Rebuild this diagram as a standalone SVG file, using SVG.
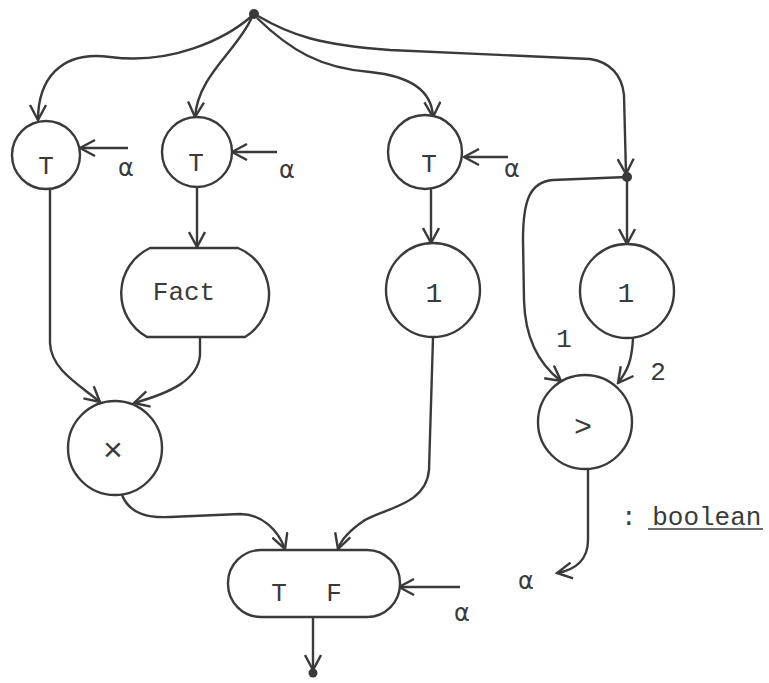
<svg xmlns="http://www.w3.org/2000/svg" width="769" height="683" viewBox="0 0 769 683">
<defs>
<style>
.n{fill:#fff;stroke:#3a3a3a;stroke-width:2.4}
.c{fill:none;stroke:#3a3a3a;stroke-width:2.4;marker-end:url(#ah)}
.t{font-family:"Liberation Mono","DejaVu Sans Mono",monospace;fill:#3a3a3a;text-anchor:middle}
.a{font-family:"DejaVu Sans","Liberation Sans",sans-serif;fill:#3a3a3a;font-size:24px}
.d{fill:#3a3a3a}
</style>
<marker id="ah" viewBox="0 0 18 18" refX="16" refY="9" markerWidth="18" markerHeight="18" markerUnits="userSpaceOnUse" orient="auto">
<path d="M1,1 L16,9 L1,17" fill="none" stroke="#3a3a3a" stroke-width="2.4"/>
</marker>
</defs>
<rect width="769" height="683" fill="#fff"/>
<g id="connectors">
<path class="c" d="M253,15 C225,40 170,65 110,57 C60,50 38,80 38,120"/>
<path class="c" d="M252,17 C238,50 198,75 195,117"/>
<path class="c" d="M257,18 C290,50 320,68 370,72 C410,76 432,90 433,117"/>
<path class="c" d="M258,16 C290,35 320,45 390,50 L590,59 C610,62 622,75 624,95 L626,174"/>
<path class="c" d="M50,189 L50,343 C51,370 80,385 100,402"/>
<path class="c" d="M197,187 L197,247"/>
<path class="c" d="M200,338 L200,355 C198,380 170,393 134,403"/>
<path class="c" d="M122,495 C130,515 150,518 170,517 L240,514 C262,514 278,530 285,549"/>
<path class="c" d="M433,338 L429,470 C426,505 385,508 365,520 C350,530 341,540 338,549"/>
<path class="c" d="M431,188 L431,243"/>
<path class="c" d="M627,177 L627,244"/>
<path class="c" d="M633,338 C632,360 628,370 618,383"/>
<path class="c" d="M627,177 L553,180 C530,182 523,200 523,240 L524,300 C525,340 540,365 561,381"/>
<path class="c" d="M588,470 L588,540 C588,560 575,570 557,573"/>
<path class="c" d="M313,617 L313,670"/>
<path class="c" d="M128,148 L80,148"/>
<path class="c" d="M277,152 L232,152"/>
<path class="c" d="M508,157 L464,157"/>
<path class="c" d="M460,587 L399,587"/>
</g>
<g id="top"><circle class="d" cx="254" cy="14" r="5"/></g>
<g id="split"><circle class="d" cx="627" cy="177" r="5"/></g>
<g id="out"><circle class="d" cx="313" cy="673" r="4.5"/></g>
<g id="t1"><circle class="n" cx="46" cy="155" r="34"/><text class="t" x="46" y="174" font-size="26">T</text><text class="a" x="118" y="176">α</text></g>
<g id="t2"><circle class="n" cx="197" cy="152" r="35"/><text class="t" x="196" y="171" font-size="26">T</text><text class="a" x="279" y="178">α</text></g>
<g id="t3"><circle class="n" cx="425" cy="152" r="37"/><text class="t" x="429" y="172" font-size="26">T</text><text class="a" x="504" y="177">α</text></g>
<g id="fact"><path class="n" d="M150,248 L238,248 A50,50 0 0 1 245,337 L147,337 A50,50 0 0 1 150,248 Z"/><text class="t" x="184" y="300" font-size="26">Fact</text></g>
<g id="one1"><circle class="n" cx="433" cy="290" r="47"/><text class="t" x="434" y="302" font-size="28">1</text></g>
<g id="one2"><circle class="n" cx="627" cy="291" r="47"/><text class="t" x="626" y="302" font-size="28">1</text></g>
<g id="mul"><circle class="n" cx="115" cy="448" r="47"/><text class="t" x="113" y="461" font-size="34">×</text></g>
<g id="gt"><circle class="n" cx="585" cy="422" r="47"/><text class="t" x="583" y="436" font-size="30">&gt;</text><text class="t" x="564" y="347" font-size="26">1</text><text class="t" x="658" y="380" font-size="26">2</text></g>
<g id="tf"><rect class="n" x="228" y="550" width="172" height="67" rx="33"/><text class="t" x="279" y="601" font-size="26">T</text><text class="t" x="334" y="601" font-size="26">F</text><text class="a" x="454" y="621">α</text></g>
<g id="bool"><text class="a" x="518" y="589">α</text><text x="621" y="525" font-size="26" font-family="Liberation Mono, DejaVu Sans Mono, monospace" fill="#3a3a3a">: boolean</text><line x1="648" y1="529" x2="763" y2="529" stroke="#3a3a3a" stroke-width="1.5"/></g>
</svg>
